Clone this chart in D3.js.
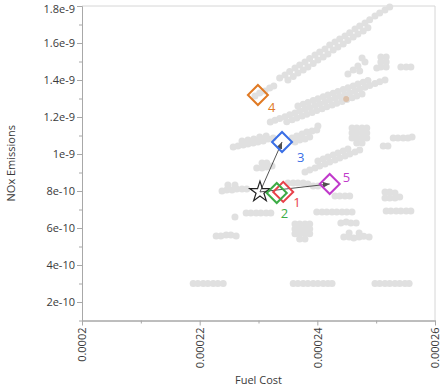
<!DOCTYPE html>
<html><head><meta charset="utf-8">
<script src="https://cdn.jsdelivr.net/npm/d3@7"></script>
<style>body{margin:0;background:#fff} svg{display:block}</style>
</head><body>
<svg id="c" width="441" height="389"></svg>
<script>
// ---- data (Fuel Cost, NOx Emissions) ----
const simPoints = [
 // upper diagonal band
 [2.336e-4,14.11e-10],[2.345e-4,14.27e-10],[2.353e-4,14.46e-10],[2.362e-4,14.65e-10],[2.370e-4,14.81e-10],[2.379e-4,14.97e-10],[2.387e-4,15.16e-10],[2.396e-4,15.35e-10],[2.404e-4,15.51e-10],[2.413e-4,15.68e-10],[2.421e-4,15.89e-10],[2.430e-4,16.05e-10],[2.438e-4,16.22e-10],[2.447e-4,16.38e-10],[2.455e-4,16.56e-10],[2.464e-4,16.76e-10],[2.472e-4,16.92e-10],[2.481e-4,17.08e-10],[2.489e-4,17.26e-10],[2.498e-4,17.46e-10],[2.506e-4,17.62e-10],[2.515e-4,17.78e-10],[2.523e-4,17.95e-10],
 [2.350e-4,14.00e-10],[2.359e-4,14.19e-10],[2.367e-4,14.38e-10],[2.376e-4,14.54e-10],[2.384e-4,14.70e-10],[2.393e-4,14.89e-10],[2.401e-4,15.08e-10],[2.410e-4,15.24e-10],[2.418e-4,15.41e-10],[2.427e-4,15.62e-10],[2.435e-4,15.78e-10],[2.444e-4,15.95e-10],[2.452e-4,16.13e-10],[2.461e-4,16.32e-10],[2.469e-4,16.49e-10],[2.478e-4,16.65e-10],[2.486e-4,16.83e-10],
 [2.311e-4,13.41e-10],[2.319e-4,13.57e-10],[2.326e-4,13.68e-10],[2.294e-4,13.14e-10],[2.302e-4,13.30e-10],
 // middle diagonal band
 [2.320e-4,11.73e-10],[2.328e-4,11.83e-10],[2.336e-4,11.92e-10],[2.345e-4,12.02e-10],[2.353e-4,12.12e-10],[2.362e-4,12.22e-10],[2.370e-4,12.32e-10],[2.379e-4,12.42e-10],[2.387e-4,12.52e-10],[2.396e-4,12.62e-10],[2.404e-4,12.72e-10],[2.413e-4,12.82e-10],[2.421e-4,12.92e-10],[2.430e-4,13.02e-10],[2.438e-4,13.11e-10],[2.447e-4,13.21e-10],[2.455e-4,13.31e-10],[2.464e-4,13.41e-10],[2.472e-4,13.51e-10],[2.481e-4,13.61e-10],[2.489e-4,13.70e-10],[2.498e-4,13.81e-10],[2.506e-4,13.90e-10],[2.515e-4,14.00e-10],
 [2.367e-4,12.59e-10],[2.376e-4,12.69e-10],[2.384e-4,12.79e-10],[2.393e-4,12.89e-10],[2.401e-4,12.99e-10],[2.410e-4,13.09e-10],[2.418e-4,13.19e-10],[2.427e-4,13.29e-10],[2.435e-4,13.38e-10],[2.444e-4,13.48e-10],[2.452e-4,13.58e-10],[2.461e-4,13.68e-10],[2.469e-4,13.78e-10],[2.478e-4,13.88e-10],[2.486e-4,13.97e-10],
 [2.348e-4,11.75e-10],[2.357e-4,11.85e-10],[2.365e-4,11.95e-10],[2.374e-4,12.05e-10],[2.382e-4,12.15e-10],[2.391e-4,12.25e-10],[2.399e-4,12.35e-10],[2.408e-4,12.45e-10],[2.416e-4,12.55e-10],[2.425e-4,12.65e-10],[2.433e-4,12.75e-10],[2.442e-4,12.84e-10],[2.450e-4,12.94e-10],[2.459e-4,13.04e-10],[2.467e-4,13.14e-10],[2.476e-4,13.24e-10],
 // scattered upper right
 [2.476e-4,15.19e-10],[2.481e-4,14.97e-10],[2.469e-4,14.76e-10],[2.461e-4,14.54e-10],[2.452e-4,14.32e-10],[2.472e-4,14.49e-10],
 [2.508e-4,15.24e-10],[2.517e-4,15.24e-10],[2.508e-4,14.97e-10],[2.517e-4,14.97e-10],[2.508e-4,14.70e-10],[2.517e-4,14.70e-10],[2.501e-4,14.65e-10],
 [2.542e-4,14.70e-10],[2.551e-4,14.70e-10],[2.559e-4,14.70e-10],
 // around design 3
 [2.257e-4,10.38e-10],[2.265e-4,10.43e-10],[2.274e-4,10.49e-10],[2.282e-4,10.54e-10],[2.291e-4,10.60e-10],[2.299e-4,10.65e-10],[2.308e-4,10.70e-10],[2.316e-4,10.81e-10],[2.325e-4,10.87e-10],
 [2.272e-4,10.70e-10],[2.282e-4,10.76e-10],[2.292e-4,10.81e-10],[2.302e-4,10.92e-10],[2.313e-4,10.97e-10],
 [2.357e-4,10.87e-10],[2.365e-4,10.97e-10],[2.374e-4,11.08e-10],[2.382e-4,11.19e-10],[2.391e-4,11.24e-10],[2.399e-4,11.30e-10],[2.362e-4,10.65e-10],[2.370e-4,10.76e-10],[2.379e-4,10.81e-10],[2.387e-4,10.92e-10],[2.401e-4,11.51e-10],
 [2.459e-4,11.41e-10],[2.467e-4,11.41e-10],[2.476e-4,11.41e-10],[2.484e-4,11.41e-10],
 [2.459e-4,11.14e-10],[2.467e-4,11.14e-10],[2.476e-4,11.14e-10],[2.484e-4,11.14e-10],
 [2.459e-4,10.87e-10],[2.467e-4,10.87e-10],[2.476e-4,10.87e-10],[2.484e-4,10.87e-10],
 [2.467e-4,10.60e-10],[2.476e-4,10.60e-10],
 [2.512e-4,10.43e-10],[2.520e-4,10.43e-10],
 [2.529e-4,10.87e-10],[2.537e-4,10.87e-10],[2.546e-4,10.87e-10],[2.554e-4,10.87e-10],[2.561e-4,10.92e-10],
 // lower diagonal band
 [2.379e-4,9.03e-10],[2.387e-4,9.14e-10],[2.396e-4,9.24e-10],[2.404e-4,9.35e-10],[2.413e-4,9.46e-10],[2.421e-4,9.57e-10],[2.430e-4,9.68e-10],[2.438e-4,9.78e-10],[2.447e-4,9.89e-10],[2.455e-4,10.00e-10],[2.464e-4,10.11e-10],[2.472e-4,10.22e-10],
 [2.401e-4,9.62e-10],[2.410e-4,9.73e-10],[2.418e-4,9.84e-10],[2.427e-4,9.95e-10],[2.435e-4,10.05e-10],[2.444e-4,10.16e-10],[2.452e-4,10.27e-10],
 [2.297e-4,9.24e-10],[2.306e-4,9.24e-10],[2.314e-4,9.30e-10],[2.323e-4,9.35e-10],[2.306e-4,9.51e-10],[2.314e-4,9.51e-10],
 // around baseline
 [2.238e-4,8.00e-10],[2.246e-4,8.05e-10],[2.255e-4,8.05e-10],[2.263e-4,8.11e-10],[2.272e-4,8.11e-10],[2.280e-4,8.11e-10],[2.248e-4,8.33e-10],[2.260e-4,8.33e-10],
 [2.350e-4,8.43e-10],[2.359e-4,8.43e-10],[2.367e-4,8.43e-10],[2.376e-4,8.43e-10],[2.384e-4,8.38e-10],[2.393e-4,8.27e-10],[2.401e-4,8.27e-10],
 [2.430e-4,7.73e-10],[2.438e-4,7.73e-10],[2.447e-4,7.73e-10],[2.455e-4,7.73e-10],
 [2.515e-4,7.95e-10],[2.523e-4,7.95e-10],[2.532e-4,7.89e-10],[2.515e-4,7.62e-10],[2.523e-4,7.62e-10],[2.532e-4,7.62e-10],[2.540e-4,7.68e-10],
 [2.279e-4,6.81e-10],[2.287e-4,6.81e-10],[2.296e-4,6.81e-10],[2.304e-4,6.81e-10],[2.313e-4,6.81e-10],[2.321e-4,6.81e-10],[2.260e-4,6.60e-10],
 [2.399e-4,6.87e-10],[2.408e-4,6.87e-10],[2.416e-4,6.87e-10],[2.425e-4,6.87e-10],[2.433e-4,6.87e-10],[2.442e-4,6.87e-10],[2.450e-4,6.87e-10],[2.459e-4,6.87e-10],
 [2.517e-4,6.92e-10],[2.525e-4,6.92e-10],[2.534e-4,6.92e-10],[2.542e-4,6.92e-10],[2.551e-4,6.92e-10],[2.559e-4,6.92e-10],
 [2.362e-4,6.22e-10],[2.370e-4,6.22e-10],[2.379e-4,6.22e-10],[2.387e-4,6.22e-10],
 [2.362e-4,5.95e-10],[2.370e-4,5.95e-10],[2.379e-4,5.95e-10],[2.387e-4,5.95e-10],
 [2.362e-4,5.69e-10],[2.370e-4,5.69e-10],[2.379e-4,5.69e-10],[2.387e-4,5.69e-10],
 [2.370e-4,5.41e-10],[2.379e-4,5.41e-10],
 [2.440e-4,6.27e-10],[2.449e-4,6.32e-10],[2.457e-4,6.27e-10],[2.466e-4,6.27e-10],
 [2.445e-4,5.51e-10],[2.454e-4,5.51e-10],[2.462e-4,5.46e-10],[2.471e-4,5.51e-10],[2.479e-4,5.56e-10],[2.488e-4,5.51e-10],[2.454e-4,5.73e-10],[2.471e-4,5.73e-10],
 [2.228e-4,5.57e-10],[2.236e-4,5.57e-10],[2.245e-4,5.62e-10],[2.253e-4,5.62e-10],[2.262e-4,5.57e-10],
 // bottom rows
 [2.189e-4,3.0e-10],[2.197e-4,3.0e-10],[2.206e-4,3.0e-10],[2.214e-4,3.0e-10],[2.223e-4,3.0e-10],[2.231e-4,3.0e-10],[2.240e-4,3.0e-10],
 [2.359e-4,3.0e-10],[2.367e-4,3.0e-10],[2.376e-4,3.0e-10],[2.384e-4,3.0e-10],[2.393e-4,3.0e-10],[2.401e-4,3.0e-10],[2.410e-4,3.0e-10],[2.418e-4,3.0e-10],[2.425e-4,3.0e-10],
 [2.498e-4,3.0e-10],[2.506e-4,3.0e-10],[2.515e-4,3.0e-10],[2.523e-4,3.0e-10],[2.532e-4,3.0e-10],[2.540e-4,3.0e-10],[2.549e-4,3.0e-10],[2.556e-4,3.0e-10]
];
const tintedPoints = [[2.449e-4, 12.97e-10]];

const designIds  = ["1", "2", "3", "4", "5"];
const designFuel = [2.342e-4, 2.331e-4, 2.340e-4, 2.299e-4, 2.421e-4];
const designNox  = [7.95e-10, 7.89e-10, 10.65e-10, 13.19e-10, 8.38e-10];
const baselineFuel = 2.3025e-4;
const baselineNox  = 7.95e-10;
const arrowTargets = ["3", "5"];

const xTicks = [0.0002, 0.00022, 0.00024, 0.00026];
const xTickLabels = ["0.0002", "0.00022", "0.00024", "0.00026"];
const xMinorTicks = [0.00021, 0.00023, 0.00025];
const yTicks = [2e-10, 4e-10, 6e-10, 8e-10, 1e-9, 1.2e-9, 1.4e-9, 1.6e-9, 1.8e-9];
const yTickLabels = ["2e-10", "4e-10", "6e-10", "8e-10", "1e-9", "1.2e-9", "1.4e-9", "1.6e-9", "1.8e-9"];
const yMinorTicks = [1e-10, 3e-10, 5e-10, 7e-10, 9e-10, 1.1e-9, 1.3e-9, 1.5e-9, 1.7e-9];
const xTitle = "Fuel Cost";
const yTitle = "NOx Emissions";

// ---- styles / layout ----
const FONT = "'Open Sans', 'Segoe UI', sans-serif";
const designColors = ["#e8404a", "#3cac46", "#3a6fe6", "#e07a24", "#c03acb"];
const labelOffsets = [[10, 11], [4, 20], [15, 15], [10, 12], [13, -7]];
const L = 82, R = 435, T = 6, B = 320.5;

const svg = d3.select("#c");
const x = d3.scaleLinear().domain([0.0002, 0.00026]).range([L, R]);
const y = d3.scaleLinear().domain([1e-10, 1.8e-9]).range([B, T]);

// frame (top/right)
svg.append("path").attr("d", `M${L},${T}H${R}V${B}`).attr("fill", "none").attr("stroke", "#d6d6d6").attr("stroke-width", 1);

// gray simulated points
svg.append("g").selectAll("circle").data(simPoints).join("circle")
  .attr("cx", d => x(d[0])).attr("cy", d => y(d[1])).attr("r", 3.5)
  .attr("fill", "#e0e0e0");
svg.append("g").selectAll("circle").data(tintedPoints).join("circle")
  .attr("cx", d => x(d[0])).attr("cy", d => y(d[1])).attr("r", 3)
  .attr("fill", "#dcc1ab");

// axes
const yAxis = d3.axisLeft(y).tickValues(yTicks).tickFormat((d, i) => yTickLabels[i]).tickSize(5).tickSizeOuter(0);
const yMinor = d3.axisLeft(y).tickValues(yMinorTicks).tickFormat("").tickSize(3).tickSizeOuter(0);
const xAxis = d3.axisBottom(x).tickValues(xTicks).tickFormat((d, i) => xTickLabels[i]).tickSize(5).tickSizeOuter(0);
const xMinor = d3.axisBottom(x).tickValues(xMinorTicks).tickFormat("").tickSize(3).tickSizeOuter(0);

function styleAxis(g) {
  g.select(".domain").attr("stroke", "#a8a8a8");
  g.selectAll(".tick line").attr("stroke", "#a8a8a8");
  g.selectAll(".tick text").attr("fill", "#3a3a3a").style("font-family", FONT).style("font-size", "11px");
}
svg.append("g").attr("transform", `translate(${L},0)`).call(yMinor).call(styleAxis);
svg.append("g").attr("transform", `translate(${L},0)`).call(yAxis).call(styleAxis)
  .selectAll(".tick text").attr("x", -7)
  .attr("dy", d => d === yTicks[yTicks.length - 1] ? "0.55em" : "0.32em");
svg.append("g").attr("transform", `translate(0,${B})`).call(xMinor).call(styleAxis);
svg.append("g").attr("transform", `translate(0,${B})`).call(xAxis).call(styleAxis)
  .selectAll(".tick text")
  .attr("transform", "rotate(-90)").attr("x", -7).attr("y", 0).attr("dy", "0.35em")
  .attr("text-anchor", "end");

// titles
svg.append("text").attr("x", (L + R) / 2).attr("y", 384).attr("text-anchor", "middle")
  .style("font-family", FONT).style("font-size", "11px").attr("fill", "#3a3a3a").text(xTitle);
svg.append("text").attr("transform", `translate(15,${(T + B) / 2}) rotate(-90)`).attr("text-anchor", "middle")
  .style("font-family", FONT).style("font-size", "11px").attr("fill", "#3a3a3a").text(yTitle);

// arrows
svg.append("defs").append("marker").attr("id", "ah")
  .attr("viewBox", "0 -4 8 8").attr("refX", 8).attr("refY", 0)
  .attr("markerWidth", 7).attr("markerHeight", 7).attr("markerUnits", "userSpaceOnUse")
  .attr("orient", "auto")
  .append("path").attr("d", "M0,-3.5L8,0L0,3.5Z").attr("fill", "#505050");

svg.append("g").selectAll("line").data(arrowTargets).join("line")
  .attr("x1", x(baselineFuel)).attr("y1", y(baselineNox))
  .attr("x2", id => x(designFuel[designIds.indexOf(id)]))
  .attr("y2", id => y(designNox[designIds.indexOf(id)]))
  .attr("stroke", "#555").attr("stroke-width", 1).attr("marker-end", "url(#ah)");

// baseline star
svg.append("path").attr("d", d3.symbol(d3.symbolStar).size(130)())
  .attr("transform", `translate(${x(baselineFuel)},${y(baselineNox)})`)
  .attr("fill", "none").attr("stroke", "#222").attr("stroke-width", 1.2);

// design diamonds
const diamond = d3.symbol(d3.symbolSquare).size(200)();
svg.append("g").selectAll("path").data(designIds).join("path")
  .attr("d", diamond)
  .attr("transform", (d, i) => `translate(${x(designFuel[i])},${y(designNox[i])}) rotate(45)`)
  .attr("fill", "none").attr("stroke", (d, i) => designColors[i]).attr("stroke-width", 2);

svg.append("g").selectAll("text").data(designIds).join("text")
  .attr("x", (d, i) => x(designFuel[i]) + labelOffsets[i][0])
  .attr("y", (d, i) => y(designNox[i]) + labelOffsets[i][1])
  .attr("dy", "0.35em")
  .style("font-family", FONT).style("font-size", "13px")
  .attr("fill", (d, i) => designColors[i]).text(d => d);
</script>
</body></html>
